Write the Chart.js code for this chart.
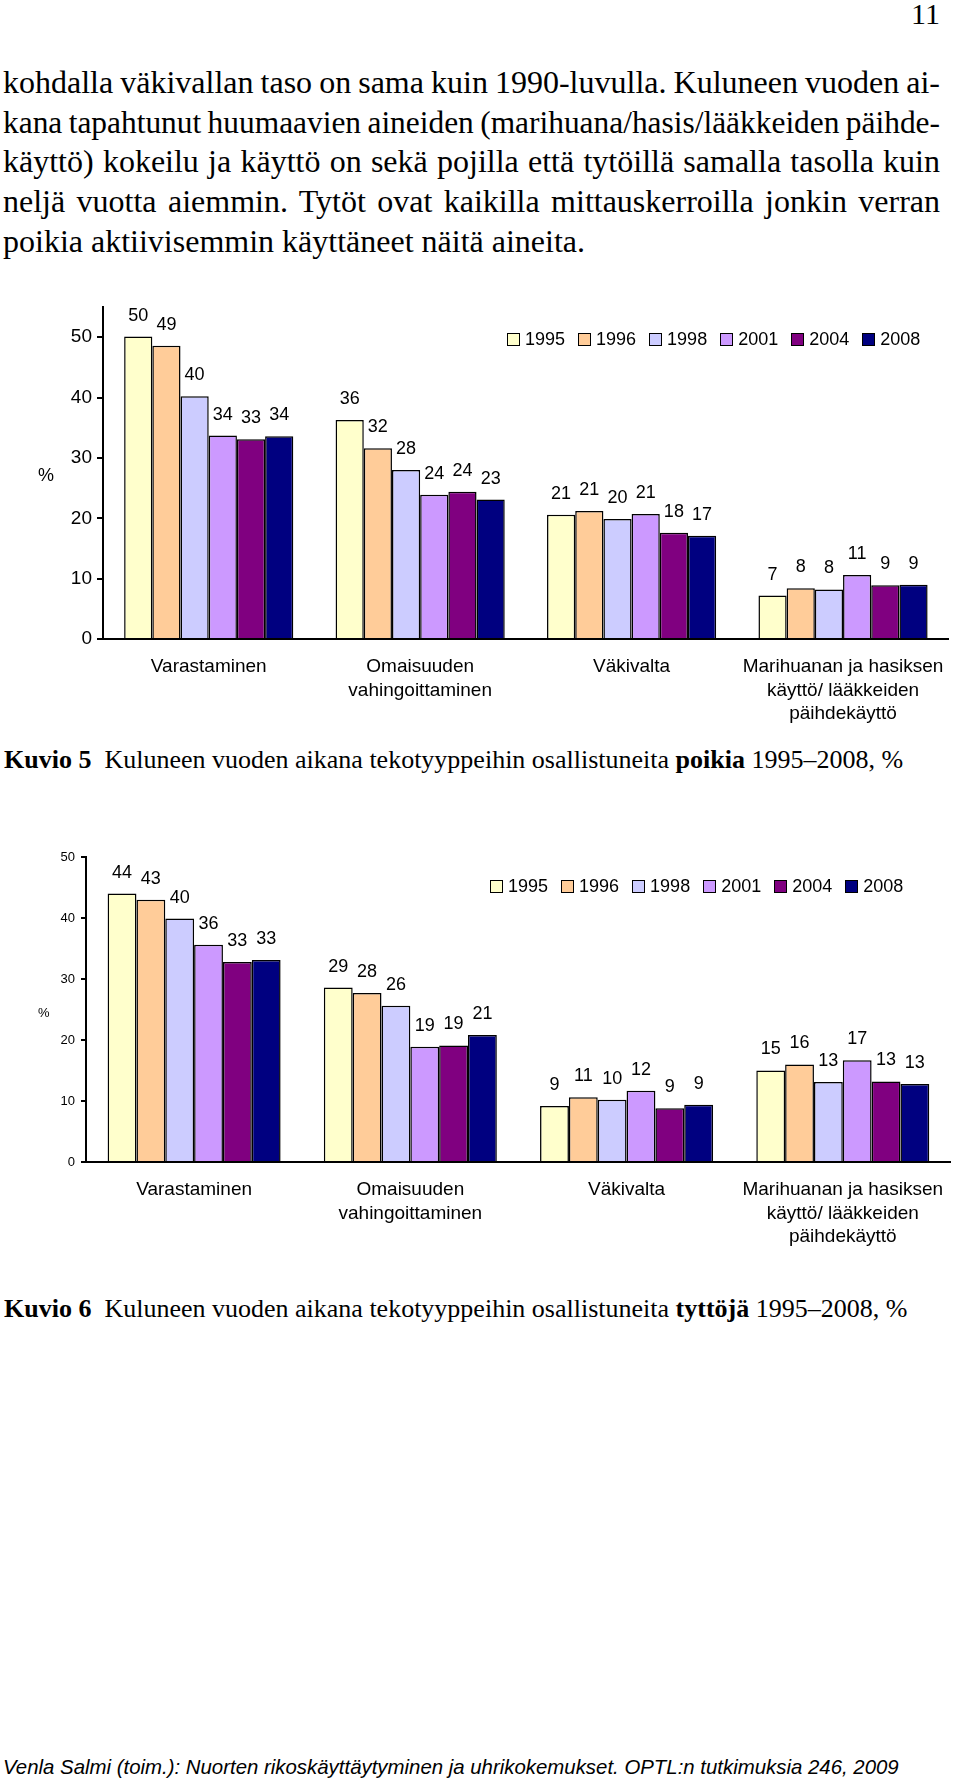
<!DOCTYPE html>
<html><head><meta charset="utf-8">
<script src="https://cdn.jsdelivr.net/npm/chart.js@4.4.0/dist/chart.umd.min.js"></script>
<style>
body{margin:0;width:960px;height:1783px;position:relative;background:#fff;overflow:hidden}
.t{position:absolute;white-space:nowrap;color:#000}
.serif{font-family:"Liberation Serif","Times New Roman",serif}
.sans{font-family:"Liberation Sans",Arial,sans-serif}
.body{font-size:32px;line-height:40px;left:3px;transform-origin:0 50%}
.cap{font-size:26px;line-height:26px;left:4px}
.legend{position:absolute;display:flex;align-items:center;font-family:"Liberation Sans",Arial,sans-serif;font-size:18px;line-height:20px;height:20px;color:#000}
.legend .box{box-sizing:border-box;width:13px;height:13px;border:1.5px solid #000;margin-right:5px}
.legend .lab{margin-right:13px}
canvas{position:absolute;left:0}
</style></head><body>

<div class="t serif" style="right:20px;top:-1px;font-size:30px;line-height:30px">11</div>
<div class="t serif body jline" style="top:62px">kohdalla väkivallan taso on sama kuin 1990-luvulla. Kuluneen vuoden ai-</div>
<div class="t serif body jline" style="top:102px">kana tapahtunut huumaavien aineiden (marihuana/hasis/lääkkeiden päihde-</div>
<div class="t serif body jline" style="top:141px">käyttö) kokeilu ja käyttö on sekä pojilla että tytöillä samalla tasolla kuin</div>
<div class="t serif body jline" style="top:181px">neljä vuotta aiemmin. Tytöt ovat kaikilla mittauskerroilla jonkin verran</div>
<div class="t serif body" style="top:221px">poikia aktiivisemmin käyttäneet näitä aineita.</div>

<canvas id="c1" width="960" height="440" style="top:290px"></canvas>
<div class="t sans" style="left:38px;top:464px;font-size:18px;line-height:22px">%</div>
<div class="legend" id="leg1" style="left:507px;top:329px"></div>

<div class="t serif cap" style="top:747px"><b>Kuvio 5</b>&nbsp; Kuluneen vuoden aikana tekotyyppeihin osallistuneita <b>poikia</b> 1995–2008, %</div>

<canvas id="c2" width="960" height="460" style="top:830px"></canvas>
<div class="t sans" style="left:38px;top:1005px;font-size:13px;line-height:16px">%</div>
<div class="legend" id="leg2" style="left:490px;top:876px"></div>

<div class="t serif cap" style="top:1296px"><b>Kuvio 6</b>&nbsp; Kuluneen vuoden aikana tekotyyppeihin osallistuneita <b>tyttöjä</b> 1995–2008, %</div>

<div class="t sans" style="left:3px;top:1757px;font-size:20.4px;line-height:20px;font-style:italic">Venla Salmi (toim.): Nuorten rikoskäyttäytyminen ja uhrikokemukset. OPTL:n tutkimuksia 246, 2009</div>

<script>
// ---- data ----
const categories = ['Varastaminen', ['Omaisuuden','vahingoittaminen'], 'Väkivalta', ['Marihuanan ja hasiksen','käyttö/ lääkkeiden','päihdekäyttö']];
const years = ['1995','1996','1998','2001','2004','2008'];
const yearColors = ['#FFFFCC','#FFCC99','#CCCCFF','#CC99FF','#800080','#000080'];

// Kuvio 5: boys (%), order = categories
const boys1995 = [50.1, 36.3, 20.6, 7.2];
const boys1996 = [48.6, 31.6, 21.2, 8.4];
const boys1998 = [40.2, 28.0, 19.9, 8.2];
const boys2001 = [33.7, 23.9, 20.7, 10.6];
const boys2004 = [33.1, 24.4, 17.6, 8.9];
const boys2008 = [33.6, 23.1, 17.1, 9.0];

// Kuvio 6: girls (%)
const girls1995 = [44.0, 28.6, 9.2, 15.0];
const girls1996 = [43.0, 27.7, 10.6, 16.0];
const girls1998 = [39.9, 25.6, 10.2, 13.1];
const girls2001 = [35.6, 18.9, 11.7, 16.7];
const girls2004 = [32.8, 19.1, 8.8, 13.2];
const girls2008 = [33.1, 20.8, 9.4, 12.8];

const yTicks = [0, 10, 20, 30, 40, 50];

// ---- justify body lines to the text block width ----
function justify() {
  const target = 937;
  document.querySelectorAll('.jline').forEach(el => {
    el.style.wordSpacing = '0px';
    el.style.transform = 'none';
    const w = el.getBoundingClientRect().width;
    const spaces = (el.textContent.match(/ /g) || []).length;
    const ws = (target - w) / spaces;
    if (ws >= -1.5) {
      el.style.wordSpacing = ws + 'px';
    } else {
      el.style.wordSpacing = '-1.5px';
      const w2 = el.getBoundingClientRect().width;
      el.style.transform = 'scaleX(' + (target / w2) + ')';
    }
  });
}
justify();
if (document.fonts && document.fonts.ready) document.fonts.ready.then(justify);

// ---- chart building ----
const FONT = '"Liberation Sans", Arial, sans-serif';

const valueLabels = {
  id: 'valueLabels',
  afterDatasetsDraw(chart, args, opts) {
    const ctx = chart.ctx;
    ctx.save();
    ctx.font = opts.size + 'px ' + FONT;
    ctx.fillStyle = '#000';
    ctx.textAlign = 'center';
    ctx.textBaseline = 'middle';
    chart.data.datasets.forEach((ds, i) => {
      chart.getDatasetMeta(i).data.forEach((bar, j) => {
        ctx.fillText(String(Math.round(ds.data[j])), bar.x, bar.y - opts.offset);
      });
    });
    ctx.restore();
  }
};

function makeChart(id, series, cfg) {
  const datasets = series.map((data, i) => ({
    label: years[i],
    data: data,
    backgroundColor: yearColors[i],
    borderColor: '#000',
    borderWidth: 1.5,
    borderSkipped: 'bottom',
    categoryPercentage: 0.8,
    barPercentage: 1.0
  }));
  return new Chart(document.getElementById(id), {
    type: 'bar',
    data: { labels: categories, datasets },
    plugins: [valueLabels],
    options: {
      responsive: false,
      animation: false,
      devicePixelRatio: 1,
      layout: { padding: { top: cfg.padTop, right: cfg.padRight, bottom: 0, left: 0 } },
      plugins: {
        legend: { display: false },
        tooltip: { enabled: false },
        valueLabels: { size: 18, offset: 21 }
      },
      scales: {
        x: {
          afterFit: a => { a.height = cfg.xHeight; },
          ticks: { color: '#000', font: { family: FONT, size: 19, lineHeight: 1.24 }, padding: 16, maxRotation: 0, autoSkip: false },
          grid: { display: false, drawTicks: false },
          border: { color: '#000', width: 2 }
        },
        y: {
          min: 0, max: cfg.yMax,
          afterBuildTicks: a => { a.ticks = yTicks.map(v => ({ value: v })); },
          afterFit: a => { a.width = cfg.yWidth; },
          ticks: { color: '#000', font: { family: FONT, size: cfg.tickSize }, padding: cfg.tickPad },
          grid: { drawOnChartArea: false, color: '#000', lineWidth: 2, tickLength: cfg.tickLen },
          border: { color: '#000', width: 2 }
        }
      }
    }
  });
}

function makeLegend(id) {
  const el = document.getElementById(id);
  years.forEach((y, i) => {
    const b = document.createElement('span'); b.className = 'box'; b.style.background = yearColors[i];
    const l = document.createElement('span'); l.className = 'lab'; l.textContent = y;
    el.appendChild(b); el.appendChild(l);
  });
}

makeChart('c1', [boys1995, boys1996, boys1998, boys2001, boys2004, boys2008],
  { padTop: 17, padRight: 5, xHeight: 91, yMax: 55, yWidth: 103, tickSize: 19, tickPad: 5, tickLen: 6 });
makeChart('c2', [girls1995, girls1996, girls1998, girls2001, girls2004, girls2008],
  { padTop: 27, padRight: 7, xHeight: 128, yMax: 50, yWidth: 86, tickSize: 13, tickPad: 6, tickLen: 5 });
makeLegend('leg1');
makeLegend('leg2');
</script>
</body></html>
